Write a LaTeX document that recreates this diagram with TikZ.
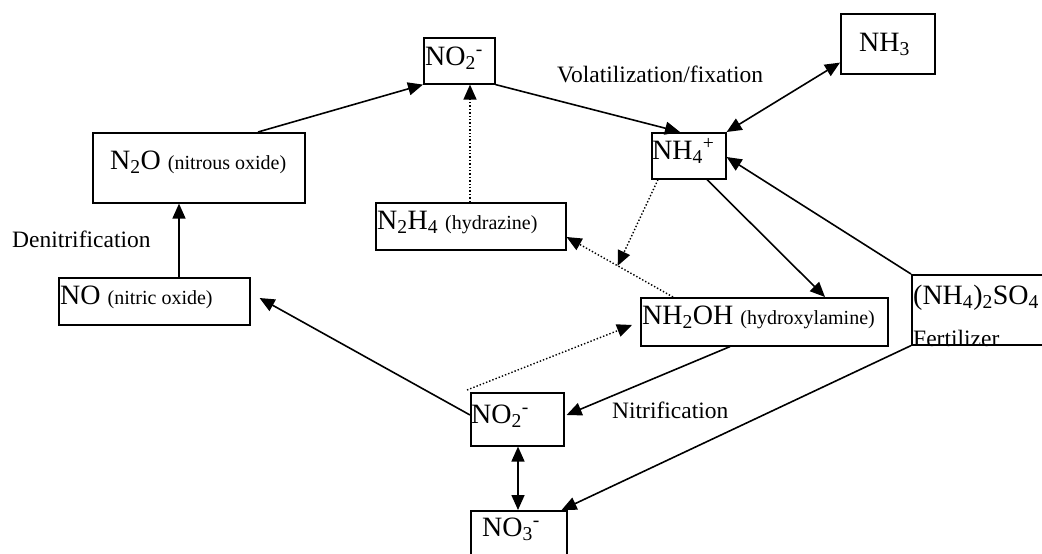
\documentclass[tikz,border=0pt]{standalone}
\usepackage{fontspec}
\setmainfont{Liberation Serif}
\usetikzlibrary{arrows.meta,calc}
\newcommand{\smalltxt}[1]{{\fontsize{20}{22}\selectfont #1}}
\begin{document}
\begin{tikzpicture}[x=1pt,y=-1pt,
  boxnode/.style={draw=black,line width=1.6pt,inner sep=0pt,anchor=north west},
  formula/.style={inner sep=0pt,anchor=base west,font=\fontsize{28}{32}\selectfont},
  lbl/.style={inner sep=0pt,anchor=base west,font=\fontsize{23.5}{28}\selectfont},
  conn/.style={line width=1.6pt,-{Triangle[length=15pt,width=13pt]}},
  dconn/.style={line width=1.6pt,{Triangle[length=15pt,width=13pt]}-{Triangle[length=15pt,width=13pt]}},
  dotconn/.style={line width=1.4pt,dotted,-{Triangle[length=15pt,width=13pt]}}]
\fill[white] (0,0) rectangle (1042,554);
\useasboundingbox (0,0) rectangle (1042,554);

% boxes
\node[boxnode,minimum width=71pt,minimum height=46pt] (no2a) at (423,37) {};
\node[boxnode,minimum width=94pt,minimum height=60pt] (nh3) at (840,13) {};
\node[boxnode,minimum width=74pt,minimum height=46pt] (nh4) at (651,132) {};
\node[boxnode,minimum width=212pt,minimum height=70pt] (n2o) at (92,132) {};
\node[boxnode,minimum width=190pt,minimum height=47pt] (n2h4) at (375,202) {};
\node[boxnode,minimum width=191pt,minimum height=47pt] (no) at (58,277) {};
\node[boxnode,minimum width=247pt,minimum height=48pt] (nh2oh) at (640,297) {};
\node[boxnode,minimum width=136pt,minimum height=70pt] (so4) at (911,274) {};
\node[boxnode,minimum width=93pt,minimum height=53pt] (no2b) at (470,392) {};
\node[boxnode,minimum width=96pt,minimum height=52pt] (no3) at (470,510) {};

% texts
\node[formula] (tno2a) at (425,65) {NO\textsubscript{2}\textsuperscript{-}};
\node[formula] (tnh3) at (859,51) {NH\textsubscript{3}};
\node[formula] (tnh4) at (652,159) {NH\textsubscript{4}\textsuperscript{+}};
\node[formula] (tn2o) at (110,169) {N\textsubscript{2}O \smalltxt{(nitrous oxide)}};
\node[formula] (tn2h4) at (377,229) {N\textsubscript{2}H\textsubscript{4} \smalltxt{(hydrazine)}};
\node[formula] (tno) at (60,304) {NO \smalltxt{(nitric oxide)}};
\node[formula] (tnh2oh) at (642,324) {NH\textsubscript{2}OH \smalltxt{(hydroxylamine)}};
\node[formula] (tso4) at (913,304) {(NH\textsubscript{4})\textsubscript{2}SO\textsubscript{4}};
\node[lbl] (tfert) at (913,346) {Fertilizer};
\node[formula] (tno2b) at (471,423) {NO\textsubscript{2}\textsuperscript{-}};
\node[formula] (tno3) at (482,536) {NO\textsubscript{3}\textsuperscript{-}};

% labels
\node[lbl] (lvol) at (557,82) {Volatilization/fixation};
\node[lbl] (lden) at (12,247) {Denitrification};
\node[lbl] (lnit) at (612,418) {Nitrification};

% solid connectors
\draw[conn] ([xshift=166pt]n2o.north west) -- (no2a.south west);
\draw[conn] (no2a.south east) -- ([xshift=29pt]nh4.north west);
\draw[dconn] (nh4.north east) -- ([yshift=12pt]nh3.south west);
\draw[conn] (so4.north west) -- ([yshift=-25pt]nh4.north east);
\draw[conn] ([xshift=56pt]nh4.south west) -- ([xshift=185pt]nh2oh.north west);
\draw[conn] (so4.south west) -- ([xshift=-6pt]no3.north east);
\draw[conn] ([xshift=90pt]nh2oh.south west) -- ([xshift=2pt,yshift=-23pt]no2b.north east);
\draw[conn] ([yshift=-23pt]no2b.north west) -- ([xshift=9pt,yshift=-21pt]no.north east);
\draw[conn] ([xshift=121pt]no.north west) -- ([xshift=87pt]n2o.south west);
\draw[dconn] ([xshift=48pt]no2b.south west) -- ([xshift=48pt]no3.north west);

% dotted connectors
\draw[dotconn] ([xshift=95pt]n2h4.north west) -- ([xshift=47pt]no2a.south west);
\draw[dotconn] ([xshift=33pt]nh2oh.north west) -- ([yshift=-35pt]n2h4.north east)
  coordinate[pos=0.52] (midhz);
\draw[dotconn] ([xshift=7pt]nh4.south west) -- (midhz);
\draw[dotconn] ([xshift=-3pt,yshift=2pt]no2b.north west) -- ([xshift=-8pt,yshift=-28pt]nh2oh.north west);
\end{tikzpicture}
\end{document}
